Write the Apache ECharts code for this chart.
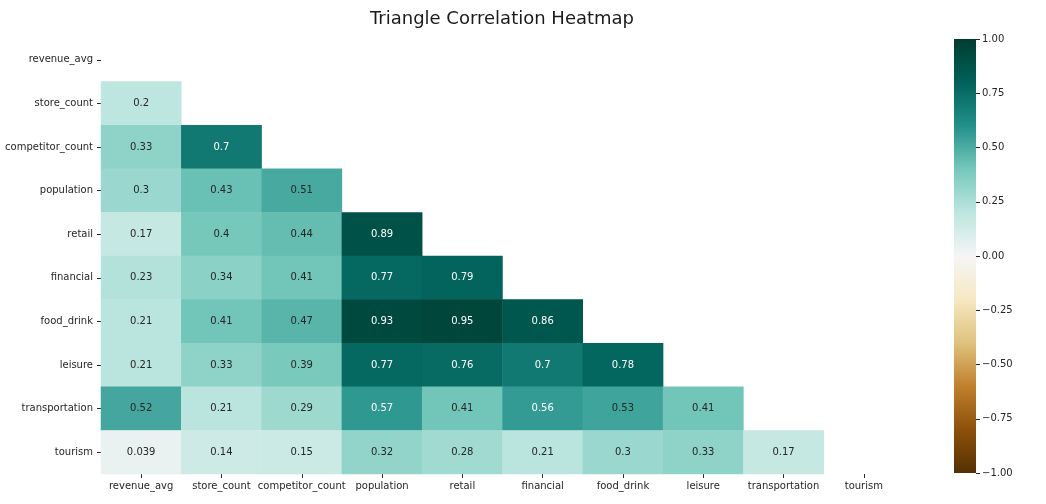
<!DOCTYPE html>
<html>
<head>
<meta charset="utf-8">
<script src="https://cdn.jsdelivr.net/npm/echarts@6/dist/echarts.min.js"></script>
<style>html,body{margin:0;padding:0;background:#fff}#c{width:1046px;height:504px}</style>
</head>
<body>
<div id="c"></div>
<script>
const variables = ['revenue_avg','store_count','competitor_count','population','retail','financial','food_drink','leisure','transportation','tourism'];
// lower-triangle rows (row i has i values, columns 0..i-1)
const rowStoreCount = [0.2];
const rowCompetitorCount = [0.33, 0.7];
const rowPopulation = [0.3, 0.43, 0.51];
const rowRetail = [0.17, 0.4, 0.44, 0.89];
const rowFinancial = [0.23, 0.34, 0.41, 0.77, 0.79];
const rowFoodDrink = [0.21, 0.41, 0.47, 0.93, 0.95, 0.86];
const rowLeisure = [0.21, 0.33, 0.39, 0.77, 0.76, 0.7, 0.78];
const rowTransportation = [0.52, 0.21, 0.29, 0.57, 0.41, 0.56, 0.53, 0.41];
const rowTourism = [0.039, 0.14, 0.15, 0.32, 0.28, 0.21, 0.3, 0.33, 0.17];
const colorbarTicks = [-1, -0.75, -0.5, -0.25, 0, 0.25, 0.5, 0.75, 1];

const rows = [[], rowStoreCount, rowCompetitorCount, rowPopulation, rowRetail, rowFinancial, rowFoodDrink, rowLeisure, rowTransportation, rowTourism];
const brbg = ['#543005','#8c510a','#bf812d','#dfc27d','#f6e8c3','#f5f5f5','#bde6e0','#76c8bb','#22908a','#00625a','#003c30'];

const data = [];
rows.forEach((r, i) => r.forEach((v, j) => {
  data.push({value: [j, i, v], label: {color: v >= 0.55 ? '#ffffff' : '#262626'}});
}));

const font = 'DejaVu Sans';
const cbLeft = 954, cbTop = 39, cbW = 22, cbH = 434;
const gradStops = brbg.map((c, k) => ({offset: 1 - k / (brbg.length - 1), color: c})).reverse();

const chart = echarts.init(document.getElementById('c'));
chart.setOption({
  backgroundColor: '#ffffff',
  animation: false,
  title: {text: 'Triangle Correlation Heatmap', left: 497, top: 5, textAlign: 'center',
    textStyle: {fontFamily: font, fontSize: 18, fontWeight: 'normal', color: '#1a1a1a'}},
  grid: [
    {left: 101, right: 142, top: 38, bottom: 30},
    {left: cbLeft, width: cbW, top: cbTop, height: cbH}
  ],
  xAxis: [
    {type: 'category', data: variables, gridIndex: 0, position: 'bottom',
     axisLine: {show: false}, splitLine: {show: false},
     axisTick: {show: true, alignWithLabel: true, length: 4, lineStyle: {color: '#262626'}},
     axisLabel: {fontFamily: font, fontSize: 10, color: '#262626', margin: 7, interval: 0}},
    {type: 'value', gridIndex: 1, show: false, min: 0, max: 1}
  ],
  yAxis: [
    {type: 'category', data: variables, gridIndex: 0, inverse: true,
     axisLine: {show: false}, splitLine: {show: false},
     axisTick: {show: true, alignWithLabel: true, length: 4, lineStyle: {color: '#262626'}},
     axisLabel: {fontFamily: font, fontSize: 10, color: '#262626', margin: 8, interval: 0}},
    {type: 'value', gridIndex: 1, position: 'right', min: colorbarTicks[0], max: colorbarTicks[colorbarTicks.length - 1], interval: 0.25,
     axisLine: {show: false, onZero: false}, splitLine: {show: false},
     axisTick: {show: true, length: 4, lineStyle: {color: '#262626'}},
     axisLabel: {fontFamily: font, fontSize: 10, color: '#262626', margin: 6,
       formatter: v => (v < 0 ? '\u2212' : '') + Math.abs(v).toFixed(2)}}
  ],
  visualMap: {
    type: 'continuous', min: -1, max: 1, seriesIndex: 0, show: false,
    inRange: {color: brbg}
  },
  graphic: [{
    type: 'rect', left: cbLeft, top: cbTop, silent: true, z: 0,
    shape: {width: cbW, height: cbH},
    style: {fill: new echarts.graphic.LinearGradient(0, 0, 0, 1, gradStops)}
  }],
  series: [{
    type: 'heatmap', xAxisIndex: 0, yAxisIndex: 0, data: data,
    label: {show: true, fontFamily: font, fontSize: 10,
      formatter: p => String(p.value[2])},
    emphasis: {disabled: true},
    itemStyle: {borderWidth: 0}
  }]
});
</script>
</body>
</html>
